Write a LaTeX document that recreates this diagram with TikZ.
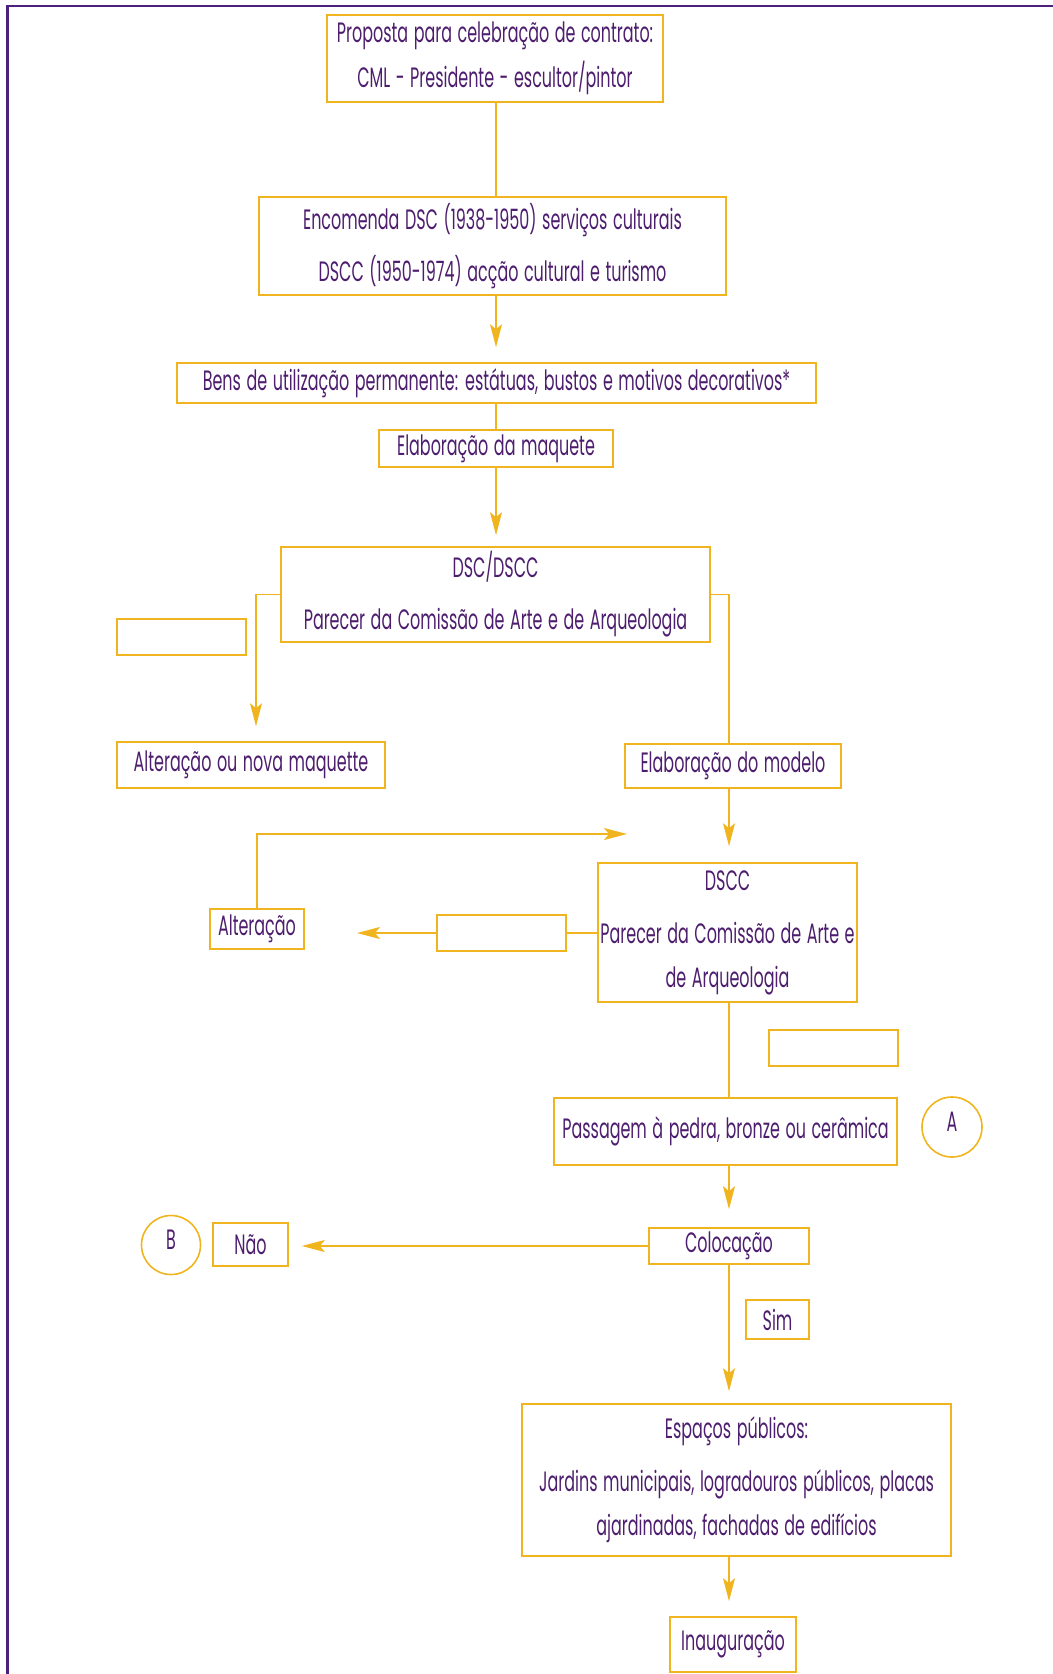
\documentclass[tikz,border=0pt]{standalone}
\usepackage{fontspec}
\setmainfont{Poppins}[FakeStretch=0.57, WordSpace=1.3]
\usetikzlibrary{arrows.meta}
\definecolor{boxc}{RGB}{240,180,30}
\definecolor{txtc}{RGB}{78,30,110}
\definecolor{purp}{RGB}{78,32,125}
\tikzset{
  box/.style={draw=boxc, line width=0.8pt, inner sep=0pt, text=txtc, align=center,
    font=\fontsize{14}{22}\selectfont},
  sz/.style 2 args={minimum width=#1*0.5pt, minimum height=#2*0.5pt},
  ring/.style={draw=boxc, line width=0.8pt, circle, inner sep=0pt, text=txtc,
    font=\fontsize{14}{22}\selectfont, text height=10pt, text depth=6pt},
  conn/.style={draw=boxc, line width=0.8pt},
  arr/.style={conn, -{Stealth[length=11.5pt,width=6pt,inset=2.5pt]}},
}
\begin{document}
\begin{tikzpicture}[x=0.5pt,y=-0.5pt]
\useasboundingbox (0,0) rectangle (1053,1674);
\draw[purp, line width=1.4pt] (7.5,1680) -- (7.5,6) -- (1060,6);
\coordinate (ux) at (496,0);
\coordinate (cx) at (729,0);
\coordinate (lx) at (256,0);
\node[box, sz={336}{87}] (box1) at (495,58.5) {Proposta para celebração de contrato:\\[0.5pt] CML - Presidente - escultor/pintor};
\node[box, sz={467}{98}] (box2) at (492.5,246) {Encomenda DSC (1938-1950) serviços culturais\\[4pt] DSCC (1950-1974) acção cultural e turismo};
\node[box, sz={639}{40}] (box3) at (496.5,383) {Bens de utilização permanente: estátuas, bustos e motivos decorativos*};
\node[box, sz={234}{37}] (box4) at (496,448.5) {Elaboração da maquete};
\node[box, sz={429}{95}] (box5) at (495.5,594.5) {DSC/DSCC\\[4pt] Parecer da Comissão de Arte e de Arqueologia};
\node[box, sz={129}{36}] (empty1) at (181.5,637) {};
\node[box, sz={268}{46}] (altnova) at (251,765) {Alteração ou nova maquette};
\node[box, sz={216}{44}] (elabm) at (733,766) {Elaboração do modelo};
\node[box, sz={94}{40}] (alter) at (257,929) {Alteração};
\node[box, sz={129}{36}] (empty2) at (501.5,933) {};
\node[box, sz={259}{139}] (dscc) at (727.5,932.5) {DSCC\\[4.5pt] Parecer da Comissão de Arte e\\ de Arqueologia};
\node[box, sz={129}{36}] (empty3) at (833.5,1048) {};
\node[box, sz={343}{67}] (pass) at (725.5,1131.5) {Passagem à pedra, bronze ou cerâmica};
\node[ring, minimum size=30pt] (circA) at (952,1127) {A};
\node[box, sz={160}{36}] (coloc) at (729,1246) {Colocação};
\node[box, sz={75}{43}] (nao) at (250.5,1244.5) {Não};
\node[ring, minimum size=29.5pt] (circB) at (171,1245) {B};
\node[box, sz={63}{39}] (sim) at (777.5,1319.5) {Sim};
\node[box, sz={429}{152}] (esp) at (736.5,1480) {Espaços públicos:\\[4.5pt] Jardins municipais, logradouros públicos, placas\\ ajardinadas, fachadas de edifícios};
\node[box, sz={126}{55}] (inaug) at (733,1644.5) {Inauguração};
\coordinate (loopend) at (627,834);
\coordinate (altend) at (357,933);
\draw[conn] (box1.south -| ux) -- (box2.north -| ux);
\draw[arr, shorten >=7.5pt] (box2.south -| ux) -- (box3.north -| ux);
\draw[conn] (box3.south -| ux) -- (box4.north -| ux);
\draw[arr, shorten >=5.5pt] (box4.south -| ux) -- (box5.north -| ux);
\draw[arr, shorten >=7.5pt] (box5.west) -| (altnova.north -| lx);
\draw[conn] (box5.east) -| (elabm.north -| cx);
\draw[arr, shorten >=8pt] (elabm.south -| cx) -- (dscc.north -| cx);
\draw[arr] (alter.north) |- (loopend);
\draw[conn] (empty2.east) -- (empty2.east -| dscc.west);
\draw[arr] (empty2.west) -- (altend);
\draw[conn] (dscc.south -| cx) -- (pass.north -| cx);
\draw[arr, shorten >=9pt] (pass.south -| cx) -- (coloc.north -| cx);
\draw[arr, shorten >=6.5pt] (coloc.west) -- (nao.east |- coloc.west);
\draw[arr, shorten >=6pt] (coloc.south -| cx) -- (esp.north -| cx);
\draw[arr, shorten >=7.5pt] (esp.south -| cx) -- (inaug.north -| cx);
\end{tikzpicture}
\end{document}
